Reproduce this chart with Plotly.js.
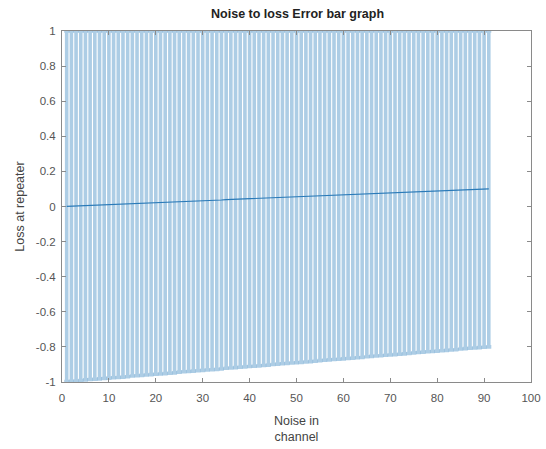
<!DOCTYPE html>
<html>
<head>
<meta charset="utf-8">
<script src="https://cdn.plot.ly/plotly-3.0.1.min.js"></script>
<style>html,body{margin:0;padding:0;background:#fff;}#chart{width:546px;height:449px;}</style>
</head>
<body>
<div id="chart"></div>
<script>
const noise = [1,2,3,4,5,6,7,8,9,10,11,12,13,14,15,16,17,18,19,20,21,22,23,24,25,26,27,28,29,30,31,32,33,34,35,36,37,38,39,40,41,42,43,44,45,46,47,48,49,50,51,52,53,54,55,56,57,58,59,60,61,62,63,64,65,66,67,68,69,70,71,72,73,74,75,76,77,78,79,80,81,82,83,84,85,86,87,88,89,90,91];
const loss = [0.001,0.002,0.003,0.004,0.006,0.007,0.008,0.009,0.010,0.011,0.012,0.013,0.014,0.015,0.017,0.018,0.019,0.020,0.021,0.022,0.023,0.024,0.025,0.026,0.028,0.029,0.030,0.031,0.032,0.033,0.034,0.035,0.036,0.037,0.039,0.040,0.041,0.042,0.043,0.044,0.045,0.046,0.047,0.048,0.050,0.051,0.052,0.053,0.054,0.055,0.056,0.057,0.058,0.059,0.061,0.062,0.063,0.064,0.065,0.066,0.067,0.068,0.069,0.070,0.072,0.073,0.074,0.075,0.076,0.077,0.078,0.079,0.080,0.081,0.083,0.084,0.085,0.086,0.087,0.088,0.089,0.090,0.091,0.092,0.094,0.095,0.096,0.097,0.098,0.099,0.100];
const lossErr = [0.999,0.998,0.997,0.996,0.994,0.993,0.992,0.991,0.990,0.989,0.988,0.987,0.986,0.985,0.983,0.982,0.981,0.980,0.979,0.978,0.977,0.976,0.975,0.974,0.972,0.971,0.970,0.969,0.968,0.967,0.966,0.965,0.964,0.963,0.961,0.960,0.959,0.958,0.957,0.956,0.955,0.954,0.953,0.952,0.950,0.949,0.948,0.947,0.946,0.945,0.944,0.943,0.942,0.941,0.939,0.938,0.937,0.936,0.935,0.934,0.933,0.932,0.931,0.930,0.928,0.927,0.926,0.925,0.924,0.923,0.922,0.921,0.920,0.919,0.917,0.916,0.915,0.914,0.913,0.912,0.911,0.910,0.909,0.908,0.906,0.905,0.904,0.903,0.902,0.901,0.900];
const xTicks = [0,10,20,30,40,50,60,70,80,90,100];
const yTicks = [-1,-0.8,-0.6,-0.4,-0.2,0,0.2,0.4,0.6,0.8,1];
const yTickText = ['-1','-0.8','-0.6','-0.4','-0.2','0','0.2','0.4','0.6','0.8','1'];

const FONT = 'Liberation Sans, Arial, sans-serif';
const trace = {
  x: noise, y: loss, type: 'scatter', mode: 'lines',
  line: {color: '#2a7ab8', width: 1.2},
  error_y: {type: 'data', array: lossErr, symmetric: true, visible: true,
            color: 'rgba(0,100,175,0.32)', thickness: 3.6, width: 2.5},
  hoverinfo: 'skip'
};
const axisCommon = {
  showgrid: false, zeroline: false, showline: true, mirror: 'ticks',
  linecolor: '#8a8a8a', linewidth: 1, ticks: 'inside', ticklen: 4,
  tickcolor: '#8a8a8a', tickfont: {family: FONT, size: 11.5, color: '#555'}
};
const layout = {
  width: 546, height: 449,
  margin: {l: 62, r: 15, t: 31, b: 67},
  paper_bgcolor: '#fff', plot_bgcolor: '#fff',
  showlegend: false,
  title: {text: '<b>Noise to loss Error bar graph</b>', x: 0.545, xanchor: 'center', y: 0.969, yanchor: 'middle',
          font: {family: FONT, size: 12.5, color: '#222'}},
  xaxis: Object.assign({}, axisCommon, {range: [0, 100], tickvals: xTicks, ticktext: xTicks.map(String),
          ticklabelstandoff: 5,
          title: {text: 'Noise in<br>channel', standoff: 13, font: {family: FONT, size: 12.5, color: '#444'}}}),
  yaxis: Object.assign({}, axisCommon, {range: [-1, 1], tickvals: yTicks, ticktext: yTickText,
          ticklabelstandoff: 3,
          title: {text: 'Loss at repeater', standoff: 8, font: {family: FONT, size: 12.5, color: '#444'}}})
};
Plotly.newPlot('chart', [trace], layout, {displayModeBar: false, staticPlot: true});
</script>
</body>
</html>
